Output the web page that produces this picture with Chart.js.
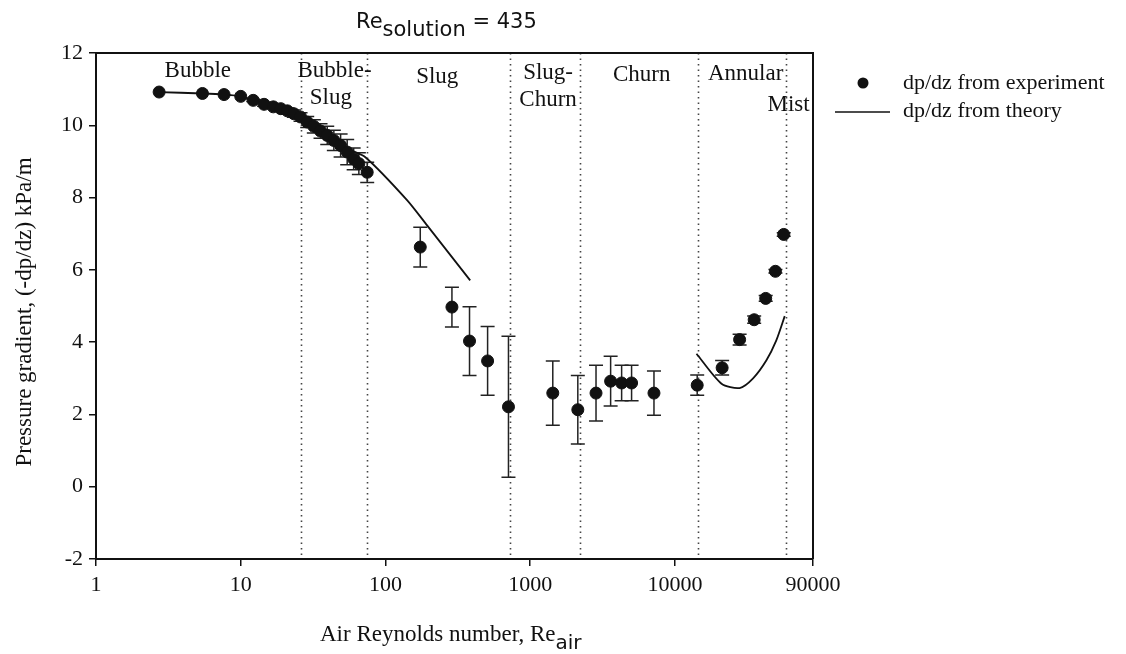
<!DOCTYPE html>
<html>
<head>
<meta charset="utf-8">
<script src="https://cdn.jsdelivr.net/npm/chart.js@4.4.0/dist/chart.umd.min.js"></script>
<style>
body { margin: 0; background: #fff; }
#contenedor { width: 1126px; height: 654px; }
</style>
</head>
<body>
<div id="contenedor"><canvas id="grafico" width="1126" height="654"></canvas></div>
<script>
// Datos experimentales (Re aire, -dp/dz en kPa/m, barra de error)
const reExp = [2.73, 5.44, 7.67, 10, 12.2, 14.5, 16.8, 18.9, 21, 23.3, 25.9, 28.8, 32, 35.6, 39.6, 44, 49, 54.4, 60.3, 65.5, 74.8,
    174, 288, 381, 508, 708, 1433, 2134, 2851, 3597, 4285, 5020, 7168, 14260, 21200, 28000, 35300, 42400, 49500, 56500];
const dpExp = [10.92, 10.88, 10.85, 10.8, 10.69, 10.58, 10.51, 10.46, 10.4, 10.32, 10.23, 10.09, 9.97, 9.84, 9.72, 9.58, 9.44, 9.26, 9.07, 8.94, 8.70,
    6.63, 4.97, 4.03, 3.48, 2.21, 2.59, 2.13, 2.59, 2.92, 2.87, 2.87, 2.59, 2.81, 3.29, 4.07, 4.62, 5.21, 5.96, 6.98];
const errExp = [0, 0, 0, 0, 0.03, 0.05, 0.05, 0.06, 0.08, 0.1, 0.12, 0.15, 0.18, 0.2, 0.25, 0.28, 0.32, 0.35, 0.3, 0.3, 0.28,
    0.55, 0.55, 0.95, 0.95, 1.95, 0.89, 0.95, 0.77, 0.69, 0.49, 0.49, 0.61, 0.28, 0.2, 0.15, 0.1, 0.08, 0.05, 0.05];

// Curva teórica (null = tramo sin curva)
const reTeoria = [2.73, 5.44, 7.67, 10, 14.5, 20, 26, 35, 45, 55, 73, 141, 194, 385, 1000, 14100, 21000, 28000, 34700, 42900, 50200, 57400];
const dpTeoria = [10.92, 10.88, 10.85, 10.8, 10.6, 10.42, 10.2, 9.9, 9.6, 9.35, 9.11, 7.93, 7.23, 5.71, null, 3.68, 2.85, 2.73, 3.0, 3.5, 4.05, 4.72];

// Límites entre regímenes de flujo
const limitesRegimen = [25.9, 74, 728, 2213, 14420, 58900];
const ticksX = [1, 10, 100, 1000, 10000, 90000];
const ticksY = [-2, 0, 2, 4, 6, 8, 10, 12];

// Etiquetas de regímenes: texto, Re del centro, y en píxeles
const etiquetasRegimen = [
    ['Bubble', 5.05, 71],
    ['Bubble-', 44.5, 71],
    ['Slug', 42, 98],
    ['Slug', 228, 77],
    ['Slug-', 1330, 73],
    ['Churn', 1330, 100],
    ['Churn', 5900, 75],
    ['Annular', 30800, 74],
    ['Mist', 61000, 105]
];

const serif = '"Liberation Serif", "Times New Roman", serif';
const sans = '"DejaVu Sans", sans-serif';

// Escribe trozos de texto seguidos, con desplazamiento vertical para subíndices
function textoConSubindice(ctx, partes, x, y) {
    ctx.textAlign = 'left';
    ctx.textBaseline = 'alphabetic';
    partes.forEach(p => {
        ctx.font = p.font;
        ctx.fillText(p.t, x, y + (p.dy || 0));
        x += ctx.measureText(p.t).width;
    });
}

const dibujoExtra = {
    id: 'dibujoExtra',
    beforeDatasetsDraw(chart) {
        const { ctx, chartArea: a, scales: { x, y } } = chart;
        ctx.save();
        // líneas punteadas de regímenes
        ctx.strokeStyle = '#444';
        ctx.lineWidth = 1.6;
        ctx.setLineDash([1.5, 4]);
        limitesRegimen.forEach(v => {
            const px = Math.round(x.getPixelForValue(v)) + 0.5;
            ctx.beginPath();
            ctx.moveTo(px, a.top);
            ctx.lineTo(px, a.bottom);
            ctx.stroke();
        });
        ctx.setLineDash([]);
        // barras de error
        ctx.strokeStyle = '#222';
        ctx.lineWidth = 1.5;
        reExp.forEach((re, i) => {
            if (!errExp[i]) return;
            const px = x.getPixelForValue(re);
            const y1 = y.getPixelForValue(dpExp[i] + errExp[i]);
            const y2 = y.getPixelForValue(dpExp[i] - errExp[i]);
            ctx.beginPath();
            ctx.moveTo(px, y1); ctx.lineTo(px, y2);
            ctx.moveTo(px - 7, y1); ctx.lineTo(px + 7, y1);
            ctx.moveTo(px - 7, y2); ctx.lineTo(px + 7, y2);
            ctx.stroke();
        });
        ctx.restore();
    },
    afterDraw(chart) {
        const { ctx, chartArea: a, scales: { x } } = chart;
        ctx.save();
        ctx.fillStyle = '#111';
        ctx.strokeStyle = '#111';
        // marco superior y derecho
        ctx.lineWidth = 2;
        ctx.beginPath();
        ctx.moveTo(a.left, a.top);
        ctx.lineTo(a.right, a.top);
        ctx.lineTo(a.right, a.bottom);
        ctx.stroke();

        // etiquetas de regímenes
        ctx.font = '23px ' + serif;
        ctx.textAlign = 'center';
        ctx.textBaseline = 'middle';
        etiquetasRegimen.forEach(([t, re, py]) => {
            ctx.fillText(t, x.getPixelForValue(re), py);
        });

        // título
        textoConSubindice(ctx, [
            { t: 'Re', font: '21px ' + sans },
            { t: 'solution', font: '21px ' + sans, dy: 8 },
            { t: ' = 435', font: '21px ' + sans }
        ], 356, 28);

        // título eje x
        textoConSubindice(ctx, [
            { t: 'Air Reynolds number, Re', font: '23px ' + serif },
            { t: 'air', font: '20px ' + sans, dy: 8 }
        ], 320, 641);

        // título eje y
        ctx.save();
        ctx.translate(25, 312);
        ctx.rotate(-Math.PI / 2);
        ctx.font = '23px ' + serif;
        ctx.textAlign = 'center';
        ctx.textBaseline = 'middle';
        ctx.fillText('Pressure gradient, (-dp/dz) kPa/m', 0, 0);
        ctx.restore();

        // leyenda
        ctx.beginPath();
        ctx.arc(863, 83, 5.5, 0, Math.PI * 2);
        ctx.fill();
        ctx.lineWidth = 1.5;
        ctx.beginPath();
        ctx.moveTo(835, 112);
        ctx.lineTo(890, 112);
        ctx.stroke();
        ctx.font = '22px ' + serif;
        ctx.textAlign = 'left';
        ctx.textBaseline = 'middle';
        ctx.fillText('dp/dz from experiment', 903, 83);
        ctx.fillText('dp/dz from theory', 903, 111);
        ctx.restore();
    }
};

const ctx = document.getElementById('grafico').getContext('2d');
new Chart(ctx, {
    type: 'scatter',
    data: {
        datasets: [
            {
                label: 'dp/dz from experiment',
                data: reExp.map((re, i) => ({ x: re, y: dpExp[i] })),
                pointRadius: 6,
                pointHoverRadius: 6,
                backgroundColor: '#111',
                borderColor: '#111',
                showLine: false
            },
            {
                label: 'dp/dz from theory',
                type: 'line',
                data: reTeoria.map((re, i) => ({ x: re, y: dpTeoria[i] })),
                borderColor: '#111',
                borderWidth: 1.8,
                pointRadius: 0,
                fill: false,
                spanGaps: false,
                tension: 0.25
            }
        ]
    },
    options: {
        responsive: false,
        animation: false,
        layout: { padding: { top: 53, right: 313, left: 0, bottom: 0 } },
        plugins: {
            legend: { display: false },
            tooltip: { enabled: false },
            title: { display: false }
        },
        scales: {
            x: {
                type: 'logarithmic',
                min: 1,
                max: 90000,
                afterBuildTicks: s => { s.ticks = ticksX.map(v => ({ value: v })); },
                afterFit: s => { s.height = 95; },
                ticks: {
                    callback: v => String(v),
                    autoSkip: false,
                    maxRotation: 0,
                    padding: 6,
                    color: '#111',
                    font: { family: serif, size: 22 }
                },
                grid: { drawOnChartArea: false, tickLength: 7, color: '#111', lineWidth: 1.5 },
                border: { color: '#111', width: 2 }
            },
            y: {
                min: -2,
                max: 12,
                afterBuildTicks: s => { s.ticks = ticksY.map(v => ({ value: v })); },
                afterFit: s => { s.width = 96; },
                ticks: {
                    padding: 6,
                    color: '#111',
                    font: { family: serif, size: 22 }
                },
                grid: { drawOnChartArea: false, tickLength: 7, color: '#111', lineWidth: 1.5 },
                border: { color: '#111', width: 2 }
            }
        }
    },
    plugins: [dibujoExtra]
});
</script>
</body>
</html>
